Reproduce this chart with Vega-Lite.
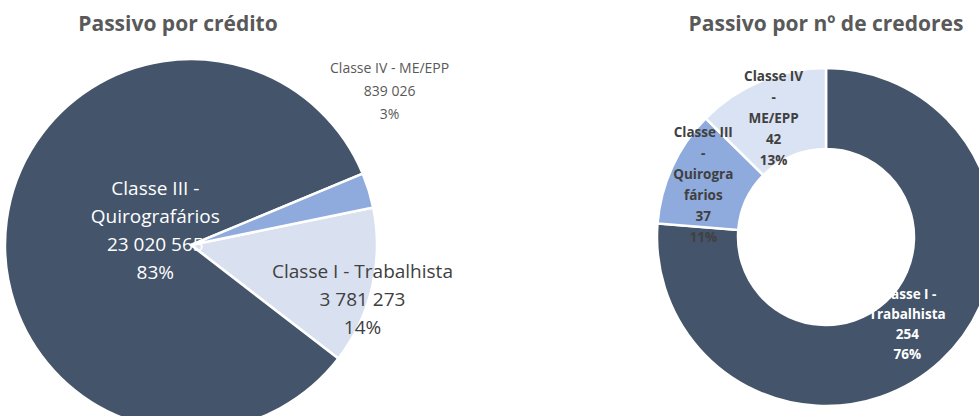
{
  "$schema": "https://vega.github.io/schema/vega-lite/v6.json",
  "autosize": {"type": "pad"},
  "padding": {"top": 14, "left": 0, "right": 0, "bottom": 0},
  "background": "white",
  "spacing": 295,
  "bounds": "flush",
  "config": {
    "view": {"stroke": null},
    "font": "Open Sans",
    "locale": {"number": {"decimal": ",", "thousands": " ", "grouping": [3], "currency": ["R$", ""]}},
    "title": {"fontSize": 21, "fontWeight": "bold", "color": "#595959", "font": "Open Sans"}
  },
  "resolve": {"scale": {"color": "independent", "theta": "independent"}},
  "hconcat": [
    {
      "width": 380,
      "height": 404,
      "title": {"text": "Passivo por crédito", "dx": -13, "offset": 8},
      "data": {"values": [
        {"cls": "Classe I - Trabalhista", "wrap": "Classe I - Trabalhista", "v": 3781273},
        {"cls": "Classe III - Quirografários", "wrap": "Classe III -|Quirografários", "v": 23020565},
        {"cls": "Classe IV - ME/EPP", "wrap": "Classe IV - ME/EPP", "v": 839026}
      ]},
      "transform": [
        {"joinaggregate": [{"op": "sum", "field": "v", "as": "total"}]},
        {"calculate": "datum.wrap + '|' + format(datum.v, ',') + '|' + format(datum.v / datum.total, '.0%')", "as": "label"}
      ],
      "encoding": {
        "theta": {"field": "v", "type": "quantitative", "stack": true, "scale": {"range": [1.368, 7.651]}},
        "order": {"field": "cls", "sort": "ascending"}
      },
      "layer": [
        {
          "mark": {"type": "arc", "outerRadius": 186, "stroke": "white", "strokeWidth": 2.5},
          "encoding": {
            "color": {"field": "cls", "type": "nominal", "legend": null,
              "scale": {"domain": ["Classe I - Trabalhista", "Classe III - Quirografários", "Classe IV - ME/EPP"], "range": ["#D9E1F0", "#44546A", "#8FAADC"]}}
          }
        },
        {
          "mark": {"type": "text", "radius": 36, "dy": -51, "fontSize": 19, "lineHeight": 28, "lineBreak": "|", "color": "white"},
          "encoding": {"text": {"condition": {"test": "datum.cls === 'Classe III - Quirografários'", "field": "label", "type": "nominal"}, "value": ""}}
        },
        {
          "mark": {"type": "text", "radius": 176, "dy": -13, "fontSize": 19, "lineHeight": 28, "lineBreak": "|", "color": "#404040"},
          "encoding": {"text": {"condition": {"test": "datum.cls === 'Classe I - Trabalhista'", "field": "label", "type": "nominal"}, "value": ""}}
        },
        {
          "mark": {"type": "text", "radius": 190, "dx": 17, "dy": -120, "fontSize": 14, "lineHeight": 23, "lineBreak": "|", "color": "#595959"},
          "encoding": {"text": {"condition": {"test": "datum.cls === 'Classe IV - ME/EPP'", "field": "label", "type": "nominal"}, "value": ""}}
        }
      ]
    },
    {
      "width": 300,
      "height": 388,
      "title": {"text": "Passivo por nº de credores", "offset": 8},
      "data": {"values": [
        {"cls": "Classe I - Trabalhista", "wrap": "Classe I -|Trabalhista", "v": 254},
        {"cls": "Classe III - Quirografários", "wrap": "Classe III|-|Quirogra|fários", "v": 37},
        {"cls": "Classe IV - ME/EPP", "wrap": "Classe IV|-|ME/EPP", "v": 42}
      ]},
      "transform": [
        {"joinaggregate": [{"op": "sum", "field": "v", "as": "total"}]},
        {"calculate": "datum.wrap + '|' + format(datum.v, ',') + '|' + format(datum.v / datum.total, '.0%')", "as": "label"}
      ],
      "encoding": {
        "theta": {"field": "v", "type": "quantitative", "stack": true},
        "order": {"field": "cls", "sort": "ascending"}
      },
      "layer": [
        {
          "mark": {"type": "arc", "outerRadius": 169, "innerRadius": 88, "stroke": "white", "strokeWidth": 2.5},
          "encoding": {
            "color": {"field": "cls", "type": "nominal", "legend": null,
              "scale": {"domain": ["Classe I - Trabalhista", "Classe III - Quirografários", "Classe IV - ME/EPP"], "range": ["#44546A", "#8FAADC", "#DAE3F3"]}}
          }
        },
        {
          "mark": {"type": "text", "radius": 128, "dx": -3, "dy": -42, "fontSize": 13.5, "fontWeight": "bold", "lineHeight": 21, "lineBreak": "|", "color": "#404040"},
          "encoding": {"text": {"condition": {"test": "datum.cls === 'Classe IV - ME/EPP'", "field": "label", "type": "nominal"}, "value": ""}}
        },
        {
          "mark": {"type": "text", "radius": 135, "dy": -48, "fontSize": 13.5, "fontWeight": "bold", "lineHeight": 21, "lineBreak": "|", "color": "#404040"},
          "encoding": {"text": {"condition": {"test": "datum.cls === 'Classe III - Quirografários'", "field": "label", "type": "nominal"}, "value": ""}}
        },
        {
          "mark": {"type": "text", "radius": 120, "dy": -30, "fontSize": 13.5, "fontWeight": "bold", "lineHeight": 20, "lineBreak": "|", "color": "white"},
          "encoding": {"text": {"condition": {"test": "datum.cls === 'Classe I - Trabalhista'", "field": "label", "type": "nominal"}, "value": ""}}
        }
      ]
    }
  ]
}
